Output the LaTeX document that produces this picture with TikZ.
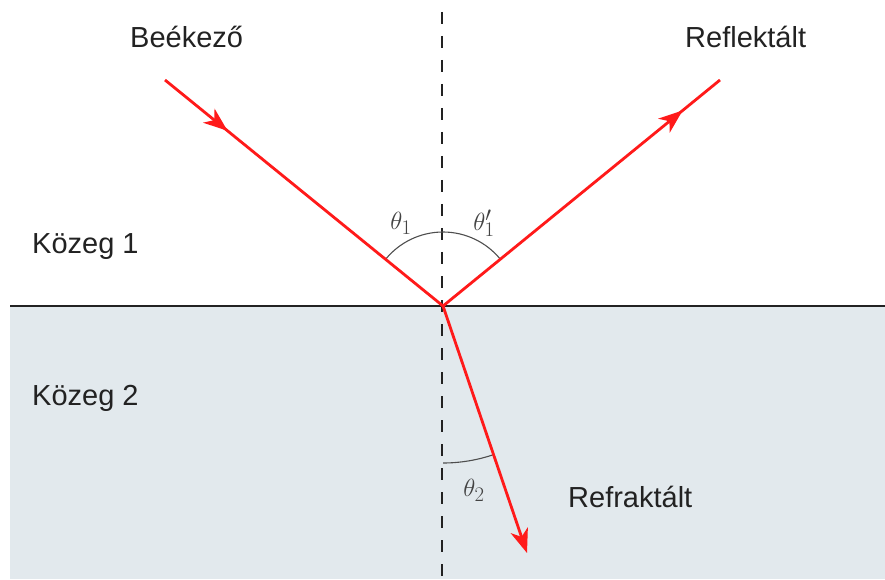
\documentclass[tikz,border=0pt]{standalone}
\usepackage{fontspec}
\setmainfont{Liberation Sans}
\usetikzlibrary{arrows.meta,decorations.markings}
\definecolor{medium}{HTML}{E2E9ED}
\definecolor{ray}{HTML}{FF1A1A}
\definecolor{ink}{HTML}{222222}
\begin{document}
\begin{tikzpicture}[x=1pt,y=1pt,
  raystyle/.style={draw=ray, line width=2.8pt},
  lbl/.style={font=\fontsize{29}{34}\selectfont, text=ink, inner sep=0pt, anchor=base west},
  anglbl/.style={font=\fontsize{31}{36}\selectfont, text=ink!85, inner sep=0pt},
  anglearc/.style={draw=ink!80, line width=1.1pt},
  raytip/.style={-{Stealth[length=24pt,width=18pt,inset=7pt]}}]
\useasboundingbox (0,0) rectangle (885,579);
\fill[medium] (10,0) rectangle (885,273);
\coordinate (O) at (443,273);
\coordinate (A) at (165,499);
\coordinate (R) at (720,499);
\coordinate (T) at (527,26);
\coordinate (Ltop) at (442,579);
\coordinate (Lbot) at (442,0);
\coordinate (IL) at (10,273);
\coordinate (IR) at (885,273);
\draw[dash pattern=on 12pt off 12pt, dash phase=12pt, line width=2pt, draw=ink] (Ltop) -- (Lbot);
\draw[line width=2pt, draw=ink] (IL) -- (IR);
% angle arcs
\draw[anglearc] ([shift={(140.9:74)}]O) arc[start angle=140.9, end angle=90, radius=74];
\draw[anglearc] ([shift={(90:74)}]O) arc[start angle=90, end angle=39.2, radius=74];
\draw[anglearc] ([shift={(-90:157)}]O) arc[start angle=-90, end angle=-71.2, radius=157];
% rays
\draw[raystyle, postaction={decorate}, decoration={markings, mark=at position 0.225 with {\arrow{Stealth[length=24pt,width=18pt,inset=7pt]}}}] (A) -- (O);
\draw[raystyle, postaction={decorate}, decoration={markings, mark=at position 0.865 with {\arrow{Stealth[length=24pt,width=18pt,inset=7pt]}}}] (O) -- (R);
\draw[raystyle, raytip] (O) -- (T);
% labels
\node[lbl] (inc) at (130,531) {Beékező};
\node[lbl] (refl) at (685,531) {Reflektált};
\node[lbl] (m1) at (32,326) {Közeg 1};
\node[lbl] (m2) at (32,174) {Közeg 2};
\node[lbl] (refr) at (568,72) {Refraktált};
\node[anglbl] (t1) at (401,356) {$\theta_1$};
\node[anglbl] (t1p) at (484,356) {$\theta'_1$};
\node[anglbl] (t2) at (474,89) {$\theta_2$};
\end{tikzpicture}
\end{document}
